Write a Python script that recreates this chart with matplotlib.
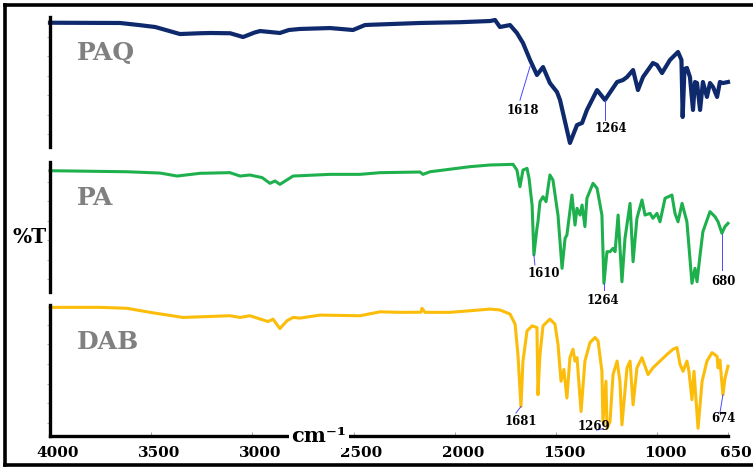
import matplotlib
matplotlib.use("Agg")
import matplotlib.pyplot as plt
import matplotlib.transforms as mtransforms
from matplotlib.lines import Line2D

# FTIR spectra: wavenumber (cm-1) and %T within each panel (0-100)
paq_wn = [4000, 3654, 3560, 3480, 3358, 3259, 3209, 3110, 3046, 2990, 2962, 2864, 2820,
          2765, 2616, 2503, 2444, 2419, 2172, 1974, 1826, 1801, 1777, 1727, 1693, 1663,
          1628, 1594, 1564, 1530, 1495, 1480, 1431, 1396, 1371, 1347, 1297, 1258, 1198,
          1169, 1149, 1119, 1095, 1070, 1021, 1001, 976, 937, 897, 880, 874, 865, 853,
          838, 823, 813, 803, 788, 774, 754, 739, 724, 704, 690, 675, 650]
paq_t = [95.6, 95.4, 93.8, 92.3, 86.9, 87.5, 87.7, 87.5, 84.6, 88, 89.2, 87.7, 90,
         90.8, 91.5, 90, 93.8, 94, 95.4, 96, 96.9, 97.7, 92.3, 93.8, 87.7, 80,
         66.9, 55.4, 61.5, 49.2, 42.3, 36.2, 3.1, 16.9, 18.5, 28.5, 43.8, 36.2, 50,
         51.5, 53.8, 59.2, 43.8, 53.8, 64.6, 63.1, 56.9, 66.9, 73.1, 67, 23.1, 60, 60.8,
         53.8, 28.5, 50, 49.2, 28.5, 50, 38.5, 49.2, 46.2, 38.5, 50, 49.2, 50]

pa_wn = [4000, 3620, 3456, 3372, 3259, 3111, 3061, 3012, 2952, 2913, 2888, 2864, 2799,
         2616, 2468, 2369, 2172, 2157, 2122, 1925, 1826, 1712, 1693, 1678, 1663, 1643,
         1633, 1618, 1609, 1594, 1589, 1579, 1564, 1549, 1530, 1515, 1495, 1490, 1470,
         1455, 1446, 1421, 1406, 1396, 1381, 1371, 1357, 1347, 1317, 1297, 1273, 1263,
         1248, 1233, 1218, 1208, 1193, 1174, 1159, 1134, 1119, 1100, 1075, 1060, 1035,
         1021, 1001, 986, 961, 927, 912, 897, 877, 853, 828, 813, 803, 788, 774, 739,
         714, 699, 680, 665, 650]
pa_t = [93.3, 92.5, 91.5, 89.2, 91.3, 91.8, 89.2, 90, 88, 83.6, 85.4, 82.8, 89.2,
        90.5, 90.5, 91.8, 92.3, 90.5, 92.5, 96.4, 97.7, 98.2, 93.8, 81, 93.8, 95.1,
        87.4, 66.9, 28.5, 49, 54, 69.5, 73.3, 69.5, 90, 86.2, 64.4, 59.2, 18.2,
        41.3, 43.8, 74.6, 51.5, 64.4, 59.2, 66.9, 50.3, 72.1, 83.6, 79.8, 59.2, 6.7,
        31, 31, 33.6, 31, 59.2, 7.9, 41.3, 68.2, 23.3, 56.7, 70.8, 59.2, 60.5,
        56.7, 60.5, 54, 72.1, 74.6, 60.5, 54, 68.2, 54, 6.7, 18.2, 7.9, 28.5, 46.4, 61.8,
        57.9, 54, 45.2, 50.3, 52.8]

dab_wn = [4000, 3753, 3620, 3506, 3343, 3111, 3061, 3012, 2923, 2898, 2864, 2829, 2799,
          2765, 2666, 2468, 2369, 2271, 2167, 2162, 2147, 2024, 1925, 1826, 1777, 1727,
          1702, 1688, 1673, 1663, 1643, 1618, 1594, 1589, 1579, 1564, 1530, 1505, 1490,
          1475, 1461, 1446, 1431, 1416, 1406, 1396, 1376, 1357, 1332, 1307, 1292, 1273,
          1268, 1253, 1248, 1233, 1218, 1198, 1184, 1174, 1149, 1134, 1119, 1100, 1075,
          1060, 1045, 1021, 986, 951, 922, 902, 887, 872, 853, 843, 828, 818, 798, 778,
          754, 729, 704, 699, 690, 675, 665, 650]
dab_t = [98.2, 98.2, 97.5, 94.4, 90.5, 91.8, 90.5, 91.8, 87.4, 89.2, 82, 88, 90.5,
         90, 92.3, 91.8, 94.8, 94.4, 94.5, 97.5, 94.4, 94.4, 95.6, 96.9, 96.2, 93.1,
         85.4, 62.3, 22.5, 57.2, 80.2, 84.1, 82.8, 31.5, 62.3, 84.1, 89.2, 85.4, 70,
         41.8, 50.8, 29, 59.8, 66.2, 57.2, 59.8, 18.7, 57.2, 71.3, 75.2, 72.5, 49.4,
         11, 41.8, 5.9, 11, 46.9, 57.2, 41.8, 8.5, 52, 57.2, 23.8, 52, 59.8,
         53.3, 46.9, 52, 57.2, 62.3, 66.2, 67.5, 54.6, 49.4, 57.2, 49.4, 27.7, 49.4, 5.9, 41.8,
         57.2, 63.6, 60.8, 52, 58, 31.5, 44, 53.3]

names = ["PAQ", "PA", "DAB"]
colors = ["#0f2a6c", "#1fb04e", "#fbbc0a"]
widths = [3.0, 2.2, 2.2]

# peak labels: text, peak position, line end, text position
paq_marks = [("1618", (1628, 62), (1678, 36), (1663, 28)),
             ("1264", (1258, 36), (1258, 21), (1228, 14.6))]
pa_marks = [("1610", (1609, 28.5), (1604, 20.8), (1559, 14.6)),
            ("1264", (1263, 6.7), (1263, 1.5), (1268, -6.2)),
            ("680", (680, 45), (680, 17), (675, 7.7))]
dab_marks = [("1681", (1673, 22.5), (1698, 17.5), (1673, 10.7)),
             ("1269", (1268, 5.5), (1300, 4.5), (1312, 6.9)),
             ("674", (675, 31.5), (690, 17.5), (675, 13.7))]

xticks = [4000, 3500, 3000, 2500, 2000, 1500, 1000, 650]

fig = plt.figure(figsize=(7.53, 4.68), dpi=100)
serif = "DejaVu Serif"

left, width = 50 / 753, 678 / 753
panels = [(17, 147), (162, 292), (305, 436)]
spectra = [(paq_wn, paq_t, paq_marks), (pa_wn, pa_t, pa_marks), (dab_wn, dab_t, dab_marks)]

axes = []
for i, (top, bot) in enumerate(panels):
    ax = fig.add_axes([left, 1 - bot / 468, width, (bot - top) / 468])
    wn, t, marks = spectra[i]
    ax.plot(wn, t, color=colors[i], lw=widths[i], solid_joinstyle="round", clip_on=False)
    ax.set_xlim(4000, 650)
    ax.set_ylim(0, 100)
    for s in ["top", "right", "bottom"]:
        ax.spines[s].set_visible(False)
    ax.spines["left"].set_linewidth(2.4)
    ax.set_yticks([10, 25, 40, 55, 70, 85])
    ax.tick_params(axis="y", length=2, width=0.6, color="#999999", labelleft=False)
    ax.text(0.04, 0.72, names[i], transform=ax.transAxes, color="#808080",
            fontsize=18, fontweight="bold", family=serif, va="center", ha="left")
    for label, peak, end, pos in marks:
        ax.plot([peak[0], end[0]], [peak[1], end[1]], color="#4a4aff", lw=0.7, clip_on=False)
        ax.text(pos[0], pos[1], label, fontsize=8.5, fontweight="bold", family=serif,
                ha="center", va="center", clip_on=False)
    axes.append(ax)

for ax in axes[:2]:
    ax.set_xticks([])

ax = axes[2]
ax.spines["bottom"].set_visible(True)
ax.spines["bottom"].set_linewidth(2.4)
ax.set_xticks(xticks)
ax.set_xticklabels([str(v) for v in xticks], fontsize=11, fontweight="bold", family=serif)
ax.tick_params(axis="x", direction="in", length=3, width=0.6, color="#999999", pad=7)
shift = mtransforms.ScaledTranslation(8 / 100, 0, fig.dpi_scale_trans)
for lab in ax.get_xticklabels():
    lab.set_transform(lab.get_transform() + shift)
ax.text(2671, 0, "cm⁻¹", fontsize=15, fontweight="bold", family=[serif, "DejaVu Sans"],
        ha="center", va="center", clip_on=False, zorder=5,
        bbox=dict(facecolor="white", edgecolor="none", pad=1.5))

fig.text(13 / 753, 1 - 237 / 468, "%T", fontsize=14.5, fontweight="bold", family=serif,
         ha="left", va="center")

# outer frame: top, left and bottom edges only
fx0, fy0, fy1 = 5 / 753, 1 - 465 / 468, 1 - 5 / 468
for xs, ys in [([fx0, 1.0], [fy1, fy1]), ([fx0, fx0], [fy0, fy1]), ([fx0, 1.0], [fy0, fy0])]:
    fig.add_artist(Line2D(xs, ys, transform=fig.transFigure, color="black", lw=2.6,
                          solid_capstyle="projecting"))

plt.savefig("out.png", dpi=100)
plt.close()
